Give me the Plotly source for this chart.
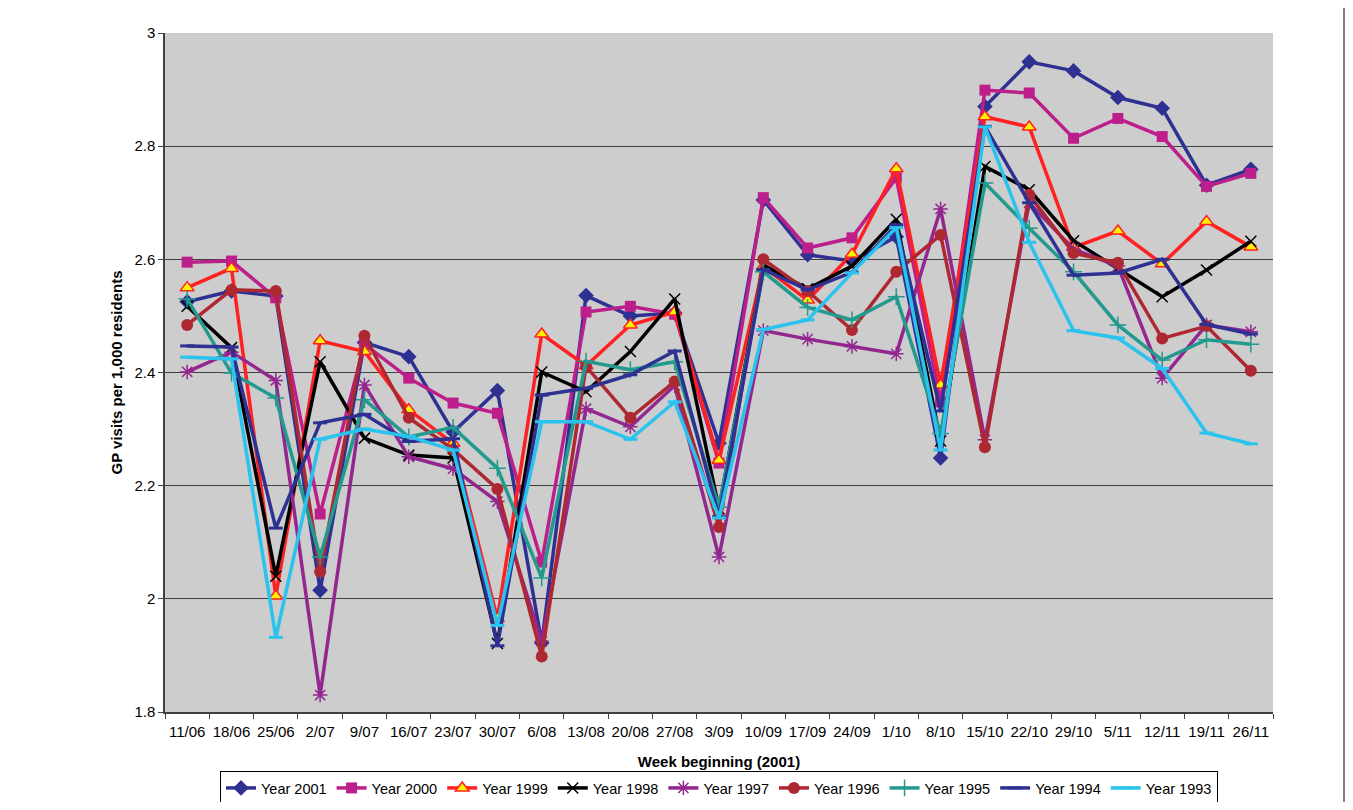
import plotly.graph_objects as go

weeks = ["11/06", "18/06", "25/06", "2/07", "9/07", "16/07", "23/07", "30/07", "6/08",
         "13/08", "20/08", "27/08", "3/09", "10/09", "17/09", "24/09", "1/10", "8/10",
         "15/10", "22/10", "29/10", "5/11", "12/11", "19/11", "26/11"]

y2001 = [2.525, 2.544, 2.535, 2.015, 2.453, 2.428, 2.295, 2.368, 1.922, 2.536, 2.500, 2.505, 2.275,
         2.705, 2.608, 2.597, 2.640, 2.249, 2.870, 2.949, 2.933, 2.886, 2.867, 2.731, 2.759]
y2000 = [2.595, 2.597, 2.532, 2.150, 2.450, 2.390, 2.346, 2.328, 2.065, 2.507, 2.517, 2.503, 2.240,
         2.709, 2.620, 2.638, 2.744, 2.348, 2.899, 2.894, 2.814, 2.849, 2.817, 2.729, 2.752]
y1999 = [2.550, 2.584, 2.005, 2.456, 2.437, 2.334, 2.275, 1.965, 2.468, 2.412, 2.484, 2.507, 2.245,
         2.587, 2.528, 2.609, 2.760, 2.378, 2.852, 2.834, 2.621, 2.650, 2.592, 2.667, 2.622]
y1998 = [2.517, 2.444, 2.040, 2.419, 2.284, 2.254, 2.249, 1.921, 2.401, 2.366, 2.437, 2.530, 2.159,
         2.590, 2.548, 2.588, 2.671, 2.279, 2.764, 2.723, 2.633, 2.584, 2.534, 2.581, 2.632]
y1997 = [2.401, 2.436, 2.386, 1.830, 2.378, 2.251, 2.230, 2.172, 1.925, 2.336, 2.304, 2.377, 2.074,
         2.474, 2.459, 2.446, 2.433, 2.689, 2.281, 2.700, 2.618, 2.588, 2.390, 2.484, 2.472]
y1996 = [2.484, 2.546, 2.544, 2.048, 2.465, 2.320, 2.264, 2.194, 1.898, 2.411, 2.320, 2.384, 2.127,
         2.600, 2.544, 2.475, 2.578, 2.643, 2.268, 2.714, 2.611, 2.594, 2.460, 2.482, 2.403]
y1995 = [2.530, 2.399, 2.355, 2.074, 2.352, 2.286, 2.303, 2.231, 2.037, 2.420, 2.405, 2.419, 2.162,
         2.578, 2.515, 2.493, 2.534, 2.292, 2.735, 2.655, 2.578, 2.484, 2.422, 2.458, 2.450]
y1994 = [2.447, 2.445, 2.125, 2.311, 2.326, 2.278, 2.283, 1.917, 2.360, 2.372, 2.396, 2.438, 2.145,
         2.582, 2.546, 2.577, 2.661, 2.332, 2.835, 2.700, 2.572, 2.576, 2.600, 2.485, 2.468]
y1993 = [2.427, 2.424, 1.932, 2.282, 2.300, 2.287, 2.263, 1.953, 2.313, 2.313, 2.282, 2.348, 2.143,
         2.476, 2.493, 2.576, 2.656, 2.263, 2.834, 2.630, 2.474, 2.461, 2.407, 2.293, 2.274]

series_names = ["Year 2001", "Year 2000", "Year 1999", "Year 1998", "Year 1997",
                "Year 1996", "Year 1995", "Year 1994", "Year 1993"]
series_values = [y2001, y2000, y1999, y1998, y1997, y1996, y1995, y1994, y1993]

NAVY = "#2E3192"
styles = [
    dict(line=NAVY, marker=dict(symbol="diamond", size=12, color=NAVY, line=dict(width=0))),
    dict(line="#BC1F8C", marker=dict(symbol="square", size=11, color="#BC1F8C", line=dict(width=0))),
    dict(line="#FF2121", marker=dict(symbol="triangle-up", size=12, color="#FFF200",
                                     line=dict(width=1.5, color="#FF2121"))),
    dict(line="#000000", marker=dict(symbol="x-thin-open", size=11, color="#000000",
                                     line=dict(width=1.5, color="#000000"))),
    dict(line="#93278F", marker=dict(symbol="asterisk-open", size=12, color="#93278F",
                                     line=dict(width=1.5, color="#93278F"))),
    dict(line="#AE2831", marker=dict(symbol="circle", size=12, color="#AE2831", line=dict(width=0))),
    dict(line="#229A8E", marker=dict(symbol="cross-thin-open", size=12, color="#229A8E",
                                     line=dict(width=1.5, color="#229A8E"))),
    dict(line=NAVY, marker=dict(symbol="line-ew-open", size=10, color=NAVY,
                                line=dict(width=3, color=NAVY))),
    dict(line="#2AC3EE", marker=dict(symbol="line-ew-open", size=10, color="#2AC3EE",
                                     line=dict(width=3, color="#2AC3EE"))),
]

FONT = "Liberation Sans, Arial, sans-serif"

# page body has an 8px margin: figure occupies 8..1345 x 8..802 of the window
FIG_W, FIG_H = 1337, 794
L, T = 157, 25
R = FIG_W - (1273 - 8)
B = FIG_H - (712 - 8)
PLOT_W = FIG_W - L - R
PLOT_H = FIG_H - T - B

fig = go.Figure()
for name, vals, st in zip(series_names, series_values, styles):
    fig.add_trace(go.Scatter(
        x=weeks, y=vals, name=name, mode="lines+markers",
        line=dict(color=st["line"], width=3.5),
        marker=st["marker"],
    ))

fig.update_layout(
    width=FIG_W, height=FIG_H,
    margin=dict(l=L, r=R, t=T, b=B, autoexpand=False),
    paper_bgcolor="white",
    plot_bgcolor="#CDCDCD",
    font=dict(family=FONT, size=15, color="black"),
    showlegend=True,
    legend=dict(
        orientation="h", x=0.5, xanchor="center",
        yref="container", y=1 - (771 - 8) / FIG_H, yanchor="top",
        bordercolor="black", borderwidth=1, bgcolor="white",
        font=dict(family=FONT, size=14.5, color="black"),
        itemwidth=30, tracegroupgap=0,
    ),
    xaxis=dict(
        type="category", tickson="boundaries", ticks="outside", ticklen=5,
        tickcolor="#404040", showline=True, linecolor="#404040", linewidth=1.5,
        showgrid=False, tickfont=dict(size=15), tickangle=0, ticklabelstandoff=5,
        automargin=False,
        title=dict(text="<b>Week beginning (2001)</b>", font=dict(size=15), standoff=18),
        range=[-0.5, len(weeks) - 0.5],
    ),
    yaxis=dict(
        range=[1.8, 3.0], dtick=0.2, tick0=1.8, ticks="outside", ticklen=5,
        tickcolor="#404040", showline=True, linecolor="#404040", linewidth=1.5,
        showgrid=True, gridcolor="#404040", gridwidth=1, zeroline=False,
        tickfont=dict(size=15), automargin=False,
        title=dict(text="<b>GP visits per 1,000 residents</b>", font=dict(size=15), standoff=8),
    ),
    shapes=[dict(type="line", xref="paper", yref="paper",
                 x0=(FIG_W - 1 - L) / PLOT_W, x1=(FIG_W - 1 - L) / PLOT_W,
                 y0=-B / PLOT_H, y1=(PLOT_H + T) / PLOT_H,
                 line=dict(color="black", width=1))],
)

fig.write_html("out.html")
